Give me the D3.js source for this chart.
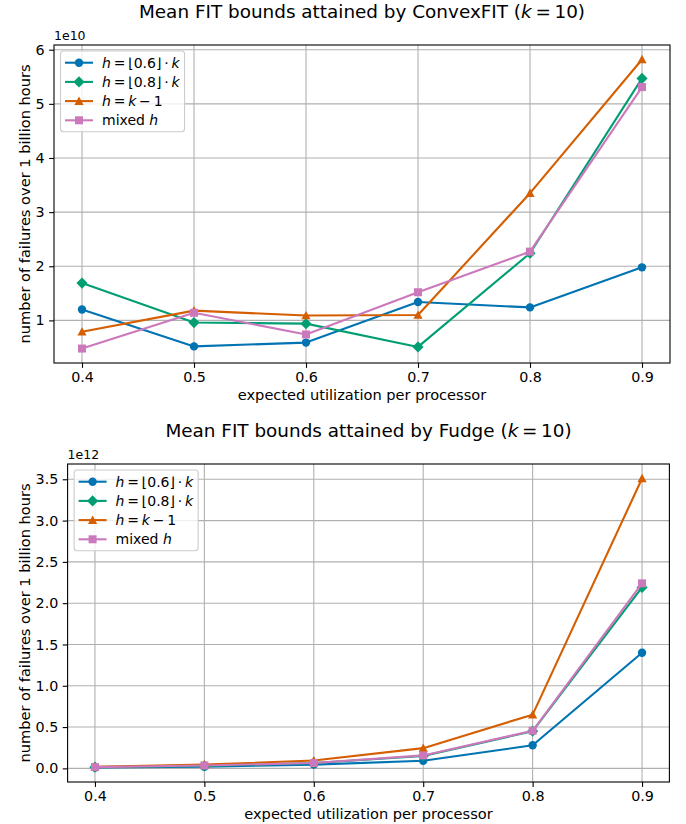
<!DOCTYPE html>
<html>
<head>
<meta charset="utf-8">
<script src="https://cdn.jsdelivr.net/npm/d3@7.9.0/dist/d3.min.js"></script>
<style>
  body { margin: 0; background: #fff; }
  svg { display: block; font-family: "DejaVu Sans", sans-serif; }
</style>
</head>
<body>
<svg id="chart" width="686" height="824"></svg>
<script>
// x values shared by both panels
const utilization = [0.4, 0.5, 0.6, 0.7, 0.8, 0.9];
const xTicks = [0.4, 0.5, 0.6, 0.7, 0.8, 0.9];

// ConvexFIT means, in units of 1e10
const convexFloor06 = [1.20, 0.52, 0.59, 1.34, 1.24, 1.98];
const convexFloor08 = [1.69, 0.96, 0.94, 0.51, 2.24, 5.47];
const convexKMinus1 = [0.79, 1.18, 1.09, 1.10, 3.35, 5.82];
const convexMixed   = [0.48, 1.14, 0.74, 1.52, 2.27, 5.31];
const convexTicks = [1, 2, 3, 4, 5, 6];

// Fudge means, in units of 1e12
const fudgeFloor06 = [0.010, 0.020, 0.045, 0.092, 0.28, 1.40];
const fudgeFloor08 = [0.015, 0.030, 0.065, 0.150, 0.45, 2.19];
const fudgeKMinus1 = [0.020, 0.045, 0.095, 0.245, 0.65, 3.51];
const fudgeMixed   = [0.015, 0.035, 0.065, 0.157, 0.455, 2.24];
const fudgeTicks = [0, 0.5, 1, 1.5, 2, 2.5, 3, 3.5];

const seriesColors = ['#0173b2', '#029e73', '#d55e00', '#cc78bc'];
const seriesMarkers = ['circle', 'diamond', 'triangle', 'square'];
// legend labels as [text, italic] pieces (thin spaces like mathtext)
const legendLabels = [
  [['h', true], ['\u2009=\u2009⌊0.6⌋\u2009·\u2009'], ['k', true]],
  [['h', true], ['\u2009=\u2009⌊0.8⌋\u2009·\u2009'], ['k', true]],
  [['h', true], ['\u2009=\u2009'], ['k', true], ['\u2009−\u20091']],
  [['mixed '], ['h', true]]
];

const svg = d3.select('#chart');

const panels = [
  {
    name: 'ConvexFIT', offset: '1e10', ticks: convexTicks, fmt: d3.format('d'),
    series: [convexFloor06, convexFloor08, convexKMinus1, convexMixed],
    box: { left: 54, right: 670, top: 45, bottom: 363 }
  },
  {
    name: 'Fudge', offset: '1e12', ticks: fudgeTicks, fmt: d3.format('.1f'),
    series: [fudgeFloor06, fudgeFloor08, fudgeKMinus1, fudgeMixed],
    box: { left: 67.6, right: 669.4, top: 464, bottom: 782 }
  }
];

// matplotlib-style 5% margins
function padded(lo, hi) {
  const m = (hi - lo) * 0.05;
  return [lo - m, hi + m];
}

function markerPath(kind) {
  if (kind === 'circle') return d3.symbol(d3.symbolCircle, Math.PI * 4.2 * 4.2)();
  if (kind === 'square') return d3.symbol(d3.symbolSquare, 8.0 * 8.0)();
  if (kind === 'triangle') return 'M0,-4.6L4.6,3.8L-4.6,3.8Z';
  return 'M0,-5.6L5.6,0L0,5.6L-5.6,0Z';
}

panels.forEach(p => {
  const b = p.box;
  const g = svg.append('g');

  const allVals = p.series.flat();
  const x = d3.scaleLinear()
    .domain(padded(d3.min(utilization), d3.max(utilization)))
    .range([b.left, b.right]);
  const y = d3.scaleLinear()
    .domain(padded(d3.min(allVals), d3.max(allVals)))
    .range([b.bottom, b.top]);

  // grid
  g.append('g').selectAll('line').data(xTicks).join('line')
    .attr('x1', d => x(d)).attr('x2', d => x(d))
    .attr('y1', b.top).attr('y2', b.bottom)
    .attr('stroke', '#b0b0b0').attr('stroke-width', 1.1);
  g.append('g').selectAll('line').data(p.ticks).join('line')
    .attr('x1', b.left).attr('x2', b.right)
    .attr('y1', d => y(d)).attr('y2', d => y(d))
    .attr('stroke', '#b0b0b0').attr('stroke-width', 1.1);

  // axes
  const xAxis = g.append('g')
    .attr('transform', `translate(0,${b.bottom})`)
    .call(d3.axisBottom(x).tickValues(xTicks).tickFormat(d3.format('.1f'))
      .tickSize(4.9).tickPadding(4.2));
  const yAxis = g.append('g')
    .attr('transform', `translate(${b.left},0)`)
    .call(d3.axisLeft(y).tickValues(p.ticks).tickFormat(p.fmt)
      .tickSize(4.9).tickPadding(4.4));
  [xAxis, yAxis].forEach(a => {
    a.select('.domain').remove();
    a.selectAll('line').attr('stroke', '#000').attr('stroke-width', 1.1);
    a.selectAll('text').attr('fill', '#000')
      .attr('font-size', 14.3).attr('font-family', '"DejaVu Sans", sans-serif');
  });

  // frame
  g.append('rect')
    .attr('x', b.left).attr('y', b.top)
    .attr('width', b.right - b.left).attr('height', b.bottom - b.top)
    .attr('fill', 'none').attr('stroke', '#000').attr('stroke-width', 1.1);

  // series
  const line = d3.line().x((d, i) => x(utilization[i])).y(d => y(d));
  p.series.forEach((vals, si) => {
    g.append('path')
      .attr('d', line(vals))
      .attr('fill', 'none')
      .attr('stroke', seriesColors[si])
      .attr('stroke-width', 2.1)
      .attr('stroke-linejoin', 'round');
    g.append('g').selectAll('path').data(vals).join('path')
      .attr('transform', (d, i) => `translate(${x(utilization[i])},${y(d)})`)
      .attr('d', markerPath(seriesMarkers[si]))
      .attr('fill', seriesColors[si]);
  });

  // texts
  const title = g.append('text')
    .attr('x', (b.left + b.right) / 2).attr('y', b.top - 27)
    .attr('text-anchor', 'middle').attr('font-size', 18.4);
  title.append('tspan').text(`Mean FIT bounds attained by ${p.name} (`);
  title.append('tspan').attr('font-style', 'italic').text('k');
  title.append('tspan').text('\u2009=\u200910)');

  g.append('text')
    .attr('x', b.left).attr('y', b.top - 5)
    .attr('font-size', 12.5).text(p.offset);

  g.append('text')
    .attr('x', (b.left + b.right) / 2).attr('y', b.bottom + 37)
    .attr('text-anchor', 'middle').attr('font-size', 14.6)
    .text('expected utilization per processor');

  g.append('text')
    .attr('transform', `translate(24,${(b.top + b.bottom) / 2}) rotate(-90)`)
    .attr('text-anchor', 'middle').attr('dominant-baseline', 'central')
    .attr('font-size', 14.6)
    .text('number of failures over 1 billion hours');

  // legend
  const lx = b.left + 6.5, ly = b.top + 6;
  const leg = g.append('g');
  const frame = leg.append('rect')
    .attr('x', lx).attr('y', ly).attr('rx', 3)
    .attr('fill', '#fff').attr('fill-opacity', 0.8)
    .attr('stroke', '#cccccc').attr('stroke-width', 1.1);
  let maxEnd = 0;
  legendLabels.forEach((parts, i) => {
    const cy = ly + 11.7 + i * 19.2;
    leg.append('line')
      .attr('x1', lx + 4.5).attr('x2', lx + 32.5)
      .attr('y1', cy).attr('y2', cy)
      .attr('stroke', seriesColors[i]).attr('stroke-width', 2.1);
    leg.append('path')
      .attr('transform', `translate(${lx + 18.5},${cy})`)
      .attr('d', markerPath(seriesMarkers[i]))
      .attr('fill', seriesColors[i]);
    const t = leg.append('text')
      .attr('x', lx + 41.5).attr('y', cy)
      .attr('dominant-baseline', 'central')
      .attr('font-size', 14);
    parts.forEach(([s, it]) => {
      t.append('tspan').attr('font-style', it ? 'italic' : 'normal').text(s);
    });
    maxEnd = Math.max(maxEnd, lx + 41.5 + t.node().getComputedTextLength());
  });
  frame.attr('width', maxEnd + 5 - lx).attr('height', 80.7);
});
</script>
</body>
</html>
